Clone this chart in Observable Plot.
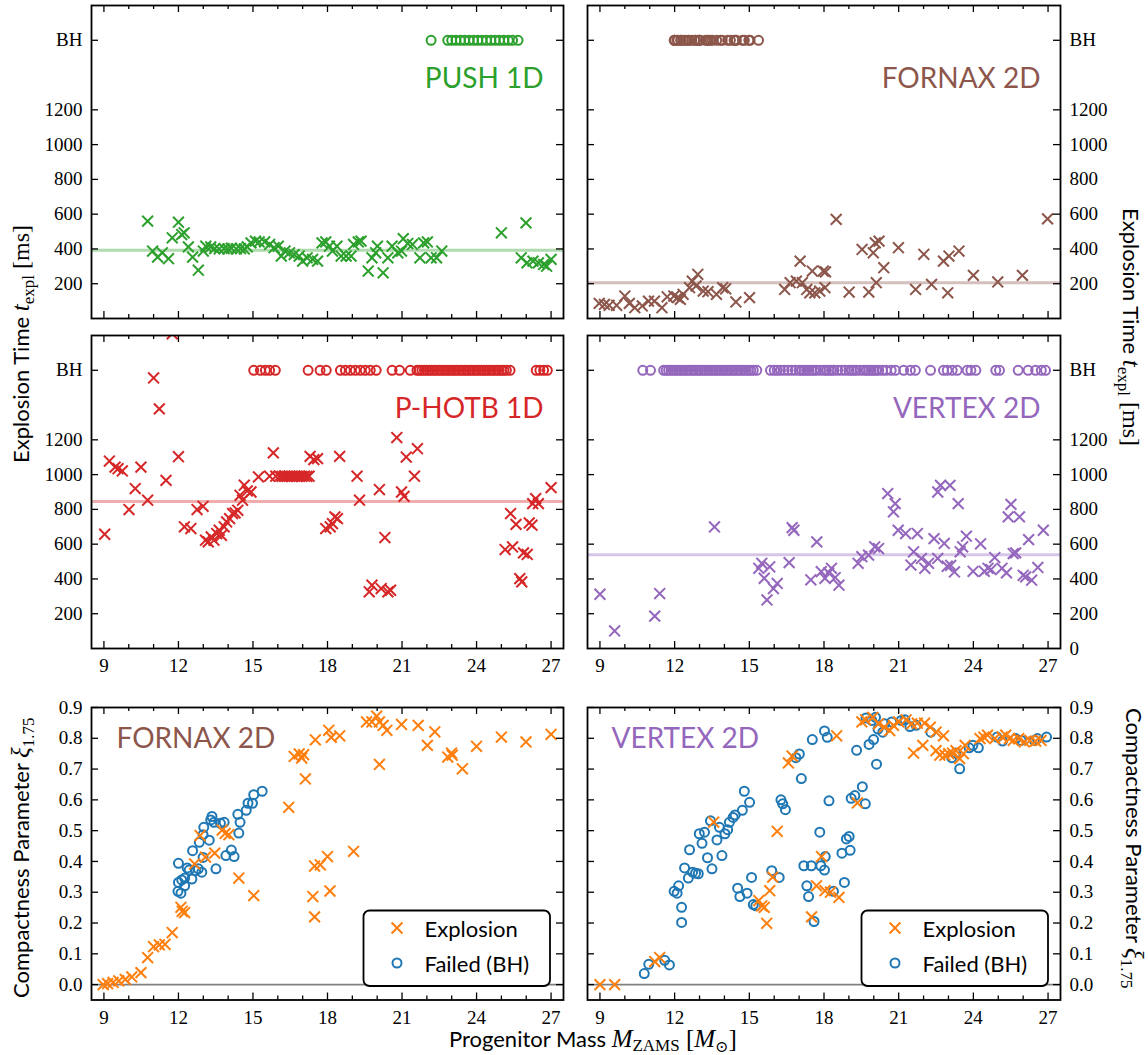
<!DOCTYPE html>
<html><head><meta charset="utf-8">
<script src="https://cdn.jsdelivr.net/npm/d3@7"></script>
<script src="https://cdn.jsdelivr.net/npm/@observablehq/plot@0.6"></script>
<style>
body{margin:0;background:#fff}
#fig{position:relative;width:1148px;height:1055px;overflow:hidden;background:#fff}
#fig > svg{position:absolute}
</style></head><body><div id="fig"></div><script>
// ---------------- DATA ----------------
const X_MAJOR = [9, 12, 15, 18, 21, 24, 27];
const X_MINOR = [10, 11, 13, 14, 16, 17, 19, 20, 22, 23, 25, 26];
const T_TICKS = [200, 400, 600, 800, 1000, 1200, 1600];
const BH_Y = 1600;
const XI_TICKS = [0, 0.1, 0.2, 0.3, 0.4, 0.5, 0.6, 0.7, 0.8, 0.9];

const pushMean = 393, fornaxMean = 206, photbMean = 845, vertexMean = 539;

const pushExpl = [[10.76,560],[10.96,388],[11.16,353],[11.35,378],[11.6,344],[11.75,464],[12.0,554],[12.13,483],[12.23,493],[12.4,412],[12.57,353],[12.8,278],[13.0,388],[13.1,416],[13.3,412],[13.46,402],[13.64,400],[13.84,402],[13.99,400],[14.13,404],[14.33,400],[14.5,402],[14.65,400],[14.77,412],[14.92,435],[15.1,445],[15.25,440],[15.47,440],[15.67,426],[15.85,407],[16.02,416],[16.14,359],[16.29,388],[16.47,378],[16.66,368],[16.86,359],[17.0,330],[17.18,349],[17.4,340],[17.6,330],[17.78,435],[17.93,440],[18.08,416],[18.2,388],[18.38,416],[18.55,359],[18.75,359],[18.95,359],[19.05,426],[19.24,440],[19.35,445],[19.64,273],[19.79,349],[19.94,378],[20.01,416],[20.24,263],[20.43,349],[20.6,416],[20.83,378],[20.98,388],[21.05,459],[21.23,431],[21.42,426],[21.72,349],[21.87,435],[22.02,440],[22.17,349],[22.39,349],[22.6,388],[25.0,493],[25.8,349],[25.99,550],[26.03,320],[26.27,330],[26.49,320],[26.7,311],[26.82,301],[27.0,340]];
const pushBH = [22.17,22.84,23.0,23.17,23.35,23.52,23.7,23.88,24.05,24.22,24.4,24.58,24.75,24.92,25.1,25.28,25.45,25.67];

const fornaxExpl = [[8.97,87],[9.18,81],[9.37,76],[9.67,76],[10.0,129],[10.18,87],[10.4,62],[10.7,72],[10.95,100],[11.19,100],[11.49,62],[11.7,125],[11.97,129],[12.12,120],[12.23,110],[12.34,139],[12.6,177],[12.71,215],[12.86,187],[12.93,254],[13.15,158],[13.34,154],[13.68,139],[13.93,177],[14.05,171],[14.46,95],[15.01,120],[16.42,167],[16.64,206],[16.89,215],[17.04,330],[17.13,206],[17.31,167],[17.43,148],[17.53,273],[17.63,148],[17.83,158],[17.97,273],[18.06,268],[18.04,177],[18.49,570],[19.01,152],[19.53,397],[19.8,152],[19.98,378],[20.06,435],[20.1,206],[20.21,445],[20.4,292],[20.99,407],[21.68,167],[22.01,369],[22.32,196],[22.8,330],[22.97,148],[23.02,359],[23.42,388],[24.0,248],[24.98,210],[25.97,248],[26.98,573]];

const photbExpl = [[9.03,657],[9.22,1078],[9.45,1043],[9.57,1034],[9.74,1021],[10.01,799],[10.26,920],[10.49,1043],[10.76,853],[11.0,1556],[11.23,1378],[11.5,967],[11.75,1810],[12.0,1103],[12.24,700],[12.5,690],[12.75,799],[12.99,818],[13.09,623],[13.2,613],[13.32,642],[13.43,623],[13.54,661],[13.64,680],[13.73,651],[13.84,700],[13.94,728],[14.06,747],[14.18,776],[14.28,780],[14.39,795],[14.48,881],[14.58,853],[14.65,939],[14.77,906],[14.92,900],[15.22,987],[15.67,991],[15.82,1125],[15.92,991],[16.07,991],[16.17,990],[16.27,991],[16.37,990],[16.47,991],[16.57,990],[16.67,991],[16.77,990],[16.87,991],[16.97,990],[17.07,991],[17.17,990],[17.26,991],[17.3,1105],[17.45,1086],[17.6,1092],[17.93,690],[18.11,700],[18.2,718],[18.3,757],[18.4,747],[18.49,1105],[19.19,991],[19.29,853],[19.68,326],[19.79,364],[20.09,914],[20.16,345],[20.31,638],[20.43,326],[20.54,335],[20.79,1213],[20.98,900],[21.08,875],[21.17,1101],[21.5,991],[21.62,1149],[25.15,569],[25.37,776],[25.45,584],[25.59,714],[25.74,402],[25.82,383],[25.89,550],[26.04,541],[26.12,722],[26.23,709],[26.26,833],[26.38,862],[26.49,833],[27.0,925]];
const photbBH = [15.03,15.3,15.5,15.67,15.9,17.22,17.7,17.95,18.52,18.72,18.92,19.12,19.32,19.52,19.72,19.96,20.6,20.9,21.33,21.6,21.7,21.8,21.9,22.0,22.1,22.2,22.3,22.4,22.5,22.6,22.7,22.8,22.9,23.0,23.1,23.2,23.3,23.4,23.5,23.6,23.7,23.8,23.9,24.0,24.1,24.2,24.3,24.4,24.5,24.6,24.7,24.8,24.9,25.0,25.1,25.2,25.35,26.4,26.55,26.7,26.85];

const vertexExpl = [[9.0,312],[9.59,101],[11.2,186],[11.4,316],[13.6,699],[15.38,461],[15.5,490],[15.6,404],[15.71,279],[15.82,470],[15.97,345],[16.12,374],[16.6,494],[16.72,695],[16.79,680],[17.47,395],[17.71,613],[17.89,442],[18.04,404],[18.19,435],[18.3,461],[18.45,408],[18.6,364],[19.37,490],[19.52,528],[19.79,537],[20.04,585],[20.19,575],[20.56,891],[20.79,786],[20.86,833],[20.98,680],[21.28,661],[21.49,480],[21.6,556],[21.75,661],[21.91,518],[22.05,461],[22.2,490],[22.42,632],[22.57,518],[22.57,900],[22.68,938],[22.83,604],[22.95,473],[23.09,478],[23.06,938],[23.24,440],[23.39,833],[23.47,556],[23.57,585],[23.72,646],[23.99,444],[24.29,602],[24.44,444],[24.59,461],[24.71,454],[24.86,523],[25.15,461],[25.33,435],[25.4,757],[25.51,829],[25.6,546],[25.7,550],[25.85,757],[26.0,421],[26.1,412],[26.22,626],[26.34,393],[26.59,466],[26.81,680]];
const vertexBH = [10.72,11.03,11.56,11.66,11.76,11.86,11.96,12.06,12.16,12.26,12.36,12.46,12.56,12.66,12.76,12.86,12.96,13.06,13.16,13.26,13.36,13.46,13.56,13.66,13.76,13.86,13.96,14.06,14.16,14.26,14.36,14.46,14.56,14.66,14.76,14.86,14.96,15.06,15.16,15.3,15.85,16.0,16.12,16.25,16.4,16.55,16.7,16.85,17.0,17.1,17.2,17.3,17.4,17.5,17.6,17.7,17.85,18.0,18.1,18.2,18.3,18.4,18.55,18.7,18.85,19.0,19.1,19.2,19.3,19.45,19.6,19.7,19.8,19.9,20.0,20.1,20.2,20.35,20.5,20.7,20.87,21.2,21.47,21.67,22.28,22.8,22.95,23.15,23.35,23.75,23.9,24.1,24.9,25.05,25.8,26.2,26.5,26.73,26.9];

// compactness panels
const fornaxXiExpl = [[8.97,0.0],[9.15,0.003],[9.37,0.007],[9.6,0.012],[9.86,0.017],[10.12,0.025],[10.49,0.039],[10.76,0.088],[11.0,0.123],[11.23,0.129],[11.46,0.131],[11.75,0.169],[12.1,0.251],[12.15,0.238],[12.25,0.234],[12.65,0.392],[12.87,0.484],[13.09,0.414],[13.46,0.427],[13.76,0.502],[13.88,0.491],[14.03,0.487],[14.43,0.346],[15.03,0.289],[16.44,0.576],[16.66,0.741],[16.86,0.749],[16.96,0.736],[17.04,0.747],[17.11,0.668],[17.41,0.286],[17.48,0.22],[17.48,0.385],[17.51,0.795],[17.71,0.389],[18.0,0.416],[18.05,0.826],[18.1,0.304],[18.15,0.803],[18.49,0.808],[19.05,0.433],[19.57,0.853],[19.79,0.853],[19.98,0.872],[20.09,0.853],[20.09,0.715],[20.24,0.842],[20.39,0.826],[20.98,0.845],[21.65,0.842],[22.02,0.777],[22.32,0.821],[22.84,0.739],[22.99,0.752],[23.02,0.745],[23.43,0.701],[24.0,0.774],[25.0,0.804],[25.99,0.788],[27.0,0.813]];
const fornaxXiBH = [[12.0,0.394],[11.98,0.303],[12.1,0.297],[12.0,0.332],[12.13,0.34],[12.25,0.346],[12.25,0.321],[12.35,0.379],[12.43,0.372],[12.57,0.435],[12.54,0.343],[12.69,0.37],[12.8,0.376],[12.84,0.462],[12.94,0.365],[12.99,0.487],[13.02,0.511],[12.99,0.413],[13.24,0.469],[13.35,0.546],[13.3,0.535],[13.43,0.527],[13.51,0.376],[13.69,0.524],[13.84,0.527],[13.91,0.419],[14.13,0.437],[14.24,0.416],[14.39,0.553],[14.43,0.492],[14.48,0.527],[14.73,0.566],[14.8,0.589],[14.98,0.589],[15.03,0.617],[15.37,0.628]];
const fornaxBH = fornaxXiBH.map(d => d[0]);

const vertexXiExpl = [[9.0,0.0],[9.59,0.0],[11.2,0.075],[11.4,0.088],[13.57,0.528],[15.38,0.273],[15.5,0.256],[15.6,0.251],[15.7,0.199],[15.82,0.305],[15.94,0.349],[16.12,0.498],[16.57,0.72],[16.72,0.742],[17.5,0.22],[17.7,0.321],[17.9,0.416],[18.04,0.305],[18.26,0.3],[18.6,0.283],[18.51,0.808],[19.34,0.59],[19.52,0.853],[19.67,0.86],[19.96,0.868],[20.19,0.847],[20.42,0.836],[20.64,0.825],[20.79,0.842],[21.0,0.853],[21.3,0.86],[21.52,0.847],[21.6,0.752],[21.75,0.849],[21.97,0.777],[22.04,0.849],[22.27,0.836],[22.5,0.82],[22.5,0.76],[22.65,0.745],[22.8,0.808],[22.86,0.745],[23.01,0.75],[23.16,0.752],[23.3,0.76],[23.45,0.734],[23.6,0.75],[23.67,0.777],[24.27,0.799],[24.42,0.804],[24.57,0.81],[24.86,0.799],[25.16,0.804],[25.3,0.81],[25.45,0.799],[25.6,0.793],[25.82,0.799],[26.05,0.788],[26.27,0.793],[26.5,0.791],[26.72,0.793]];
const vertexXiBH = [[10.78,0.036],[10.96,0.066],[11.6,0.079],[11.79,0.064],[11.98,0.303],[12.1,0.297],[12.16,0.321],[12.28,0.251],[12.28,0.202],[12.4,0.379],[12.55,0.346],[12.6,0.438],[12.72,0.365],[12.84,0.362],[12.95,0.36],[12.99,0.49],[13.1,0.459],[13.2,0.495],[13.32,0.412],[13.44,0.532],[13.5,0.376],[13.7,0.47],[13.8,0.511],[13.9,0.419],[14.02,0.49],[14.13,0.503],[14.2,0.527],[14.35,0.543],[14.43,0.551],[14.53,0.313],[14.62,0.286],[14.72,0.566],[14.8,0.628],[14.91,0.297],[15.01,0.592],[15.09,0.348],[15.16,0.26],[15.26,0.256],[15.9,0.37],[16.2,0.348],[16.27,0.6],[16.34,0.587],[16.45,0.568],[16.87,0.737],[17.01,0.749],[17.09,0.669],[17.19,0.386],[17.31,0.321],[17.38,0.286],[17.49,0.386],[17.53,0.796],[17.6,0.205],[17.83,0.495],[17.87,0.386],[18.02,0.372],[18.05,0.416],[18.02,0.824],[18.13,0.803],[18.2,0.597],[18.38,0.303],[18.72,0.427],[18.82,0.332],[18.9,0.473],[19.01,0.481],[19.05,0.436],[19.09,0.605],[19.24,0.614],[19.31,0.761],[19.54,0.643],[19.66,0.587],[19.69,0.866],[19.81,0.78],[19.92,0.858],[19.99,0.796],[20.07,0.868],[20.11,0.716],[20.17,0.83],[20.36,0.82],[20.43,0.847],[20.72,0.853],[21.1,0.858],[21.25,0.86],[21.45,0.838],[21.7,0.842],[22.29,0.82],[23.13,0.737],[23.29,0.752],[23.45,0.701],[23.83,0.769],[23.98,0.777],[24.2,0.769],[24.95,0.804],[25.17,0.791],[25.7,0.799],[25.92,0.793],[26.45,0.793],[26.57,0.799],[26.94,0.804]];

// ---------------- STYLE / LAYOUT ----------------
const C = {push: "#2ca02c", fornax: "#8c564b", photb: "#d62728", vertex: "#9467bd", expl: "#ff7f0e", fail: "#1f77b4"};
const SERIF = "'Liberation Serif', 'DejaVu Serif', serif";
const SANS = "Lato, 'Open Sans', sans-serif";
const X_DOMAIN = [8.5, 27.5];
const COL = [{x0: 91, x1: 563}, {x0: 587, x1: 1060}];
const ROW = [{y0: 5, y1: 318}, {y0: 335, y1: 648}, {y0: 706.5, y1: 999}];
const MG = {t: 6, r: 64, b: 40, l: 64};
const fig = document.getElementById("fig");

function panel(ci, ri, cfg) {
  const c = COL[ci], r = ROW[ri];
  const fw = c.x1 - c.x0, fh = r.y1 - r.y0;
  const tk = {stroke: "black", strokeWidth: 1.3};
  const marks = [
    ...cfg.marks,
    Plot.tickX(X_MAJOR, {x: d => d, insetTop: fh - 7, ...tk}),
    Plot.tickX(X_MAJOR, {x: d => d, insetBottom: fh - 7, ...tk}),
    Plot.tickX(X_MINOR, {x: d => d, insetTop: fh - 4, ...tk}),
    Plot.tickX(X_MINOR, {x: d => d, insetBottom: fh - 4, ...tk}),
    Plot.tickY(cfg.yTicks, {y: d => d, insetRight: fw - 7, ...tk}),
    Plot.tickY(cfg.yTicks, {y: d => d, insetLeft: fw - 7, ...tk}),
    Plot.frame({stroke: "black", strokeWidth: 1.8}),
    Plot.axisY({anchor: cfg.ySide, ticks: cfg.yLabelTicks, tickSize: 0, tickPadding: 9, tickFormat: cfg.yFormat, label: null, fontSize: 19, fontFamily: SERIF})
  ];
  if (cfg.xLabels) marks.push(Plot.axisX({ticks: X_MAJOR, tickSize: 0, tickPadding: 10, tickFormat: d => String(d), label: null, fontSize: 19, fontFamily: SERIF}));
  if (cfg.title) marks.push(Plot.text([cfg.title], {text: d => d, frameAnchor: cfg.titleAnchor, dx: cfg.tdx, dy: cfg.tdy, lineAnchor: "bottom", textAnchor: cfg.titleAnchor.endsWith("right") ? "end" : "start", fill: cfg.titleColor, fontFamily: SANS, fontSize: 28}));
  const svg = Plot.plot({
    width: fw + MG.l + MG.r, height: fh + MG.t + MG.b,
    marginLeft: MG.l, marginRight: MG.r, marginTop: MG.t, marginBottom: MG.b,
    x: {domain: X_DOMAIN, axis: cfg.xLabels ? undefined : null},
    y: {domain: cfg.yDomain},
    style: {fontFamily: SERIF, fontSize: "19px", color: "black", background: "transparent", overflow: "visible", maxWidth: "none"},
    marks
  });
  svg.style.left = (c.x0 - MG.l) + "px";
  svg.style.top = (r.y0 - MG.t) + "px";
  fig.append(svg);
}

const fmtT = d => d === BH_Y ? "BH" : String(d);
const crosses = (data, color) => Plot.dot(data, {x: d => d[0], y: d => d[1], symbol: "times", r: 5, stroke: color, strokeWidth: 2, fill: "none", clip: true});
const bhRow = (data, color) => Plot.dot(data, {x: d => d, y: () => BH_Y, symbol: "circle", r: 4.5, stroke: color, strokeWidth: 2, fill: "none", clip: true});
const rings = (data, color) => Plot.dot(data, {x: d => d[0], y: d => d[1], symbol: "circle", r: 4.5, stroke: color, strokeWidth: 2, fill: "none", clip: true});
const meanLine = (v, color) => Plot.ruleY([v], {stroke: color, strokeOpacity: 0.38, strokeWidth: 3});

const timeCfg = (expl, bh, mean, color, title, side, xLabels, labelTicks) => ({
  yDomain: [0, 1800], yTicks: T_TICKS, yLabelTicks: labelTicks, yFormat: fmtT, ySide: side, xLabels,
  title, titleColor: color, titleAnchor: "top-right", tdx: -20, tdy: 82.5,
  marks: [meanLine(mean, color), crosses(expl, color), bhRow(bh, color)]
});

panel(0, 0, timeCfg(pushExpl, pushBH, pushMean, C.push, "PUSH 1D", "left", false, T_TICKS));
panel(1, 0, timeCfg(fornaxExpl, fornaxBH, fornaxMean, C.fornax, "FORNAX 2D", "right", false, T_TICKS));
panel(0, 1, timeCfg(photbExpl, photbBH, photbMean, C.photb, "P-HOTB 1D", "left", true, T_TICKS));
panel(1, 1, timeCfg(vertexExpl, vertexBH, vertexMean, C.vertex, "VERTEX 2D", "right", true, [0, ...T_TICKS]));

const xiCfg = (expl, bh, title, color, side, tdx) => ({
  yDomain: [-0.05, 0.9], yTicks: XI_TICKS, yLabelTicks: XI_TICKS, yFormat: d3.format(".1f"), ySide: side, xLabels: true,
  title, titleColor: color, titleAnchor: "top-left", tdx, tdy: 40.5,
  marks: [Plot.ruleY([0], {stroke: "#808080", strokeWidth: 1.6}), rings(bh, C.fail), crosses(expl, C.expl)]
});
panel(0, 2, xiCfg(fornaxXiExpl, fornaxXiBH, "FORNAX 2D", C.fornax, "left", 25));
panel(1, 2, xiCfg(vertexXiExpl, vertexXiBH, "VERTEX 2D", C.vertex, "right", 24));

// ---------------- OVERLAY: axis titles & legends ----------------
const ov = d3.create("svg").attr("width", 1148).attr("height", 1055).style("left", "0px").style("top", "0px");
function label(x, y, rot, parts, anchor = "start") {
  const t = ov.append("text").attr("transform", `translate(${x},${y}) rotate(${rot})`).attr("text-anchor", anchor).attr("fill", "black");
  for (const p of parts) {
    const s = t.append("tspan").text(p.t).attr("font-family", p.f === "sans" ? SANS : SERIF).attr("font-size", p.s || 24);
    if (p.i) s.attr("font-style", "italic");
    if (p.dy) s.attr("dy", p.dy);
  }
}
const tParts = [{t: "Explosion Time ", f: "sans", s: 22}, {t: "t", i: 1, s: 25}, {t: "expl", s: 17, dy: 5}, {t: " [ms]", s: 24, dy: -5}];
label(29, 463, -90, tParts);
label(1123, 208, 90, tParts);
const xiParts = [{t: "Compactness Parameter ", f: "sans", s: 22}, {t: "ξ", i: 1, s: 25}, {t: "1.75", s: 17, dy: 5}, {t: "", dy: -5}];
label(29, 998, -90, xiParts);
label(1126, 708, 90, xiParts);
label(449, 1047, 0, [{t: "Progenitor Mass ", f: "sans", s: 22}, {t: "M", i: 1, s: 25}, {t: "ZAMS", s: 17, dy: 4}, {t: " [", s: 25, dy: -4}, {t: "M", i: 1, s: 25}, {t: "⊙", s: 16, dy: 5}, {t: "]", s: 25, dy: -5}]);

function legend(x, y) {
  const g = ov.append("g").attr("transform", `translate(${x},${y})`);
  g.append("rect").attr("x", 0).attr("y", 0).attr("width", 186.5).attr("height", 75.5).attr("rx", 6).attr("fill", "white").attr("stroke", "black").attr("stroke-width", 1.8);
  g.append("path").attr("d", d3.symbol(d3.symbolTimes, 25 * Math.PI)()).attr("transform", "translate(33.5,17.5)").attr("fill", "none").attr("stroke", C.expl).attr("stroke-width", 2);
  g.append("circle").attr("cx", 33.5).attr("cy", 52.5).attr("r", 4.5).attr("fill", "none").attr("stroke", C.fail).attr("stroke-width", 2);
  g.append("text").attr("x", 61).attr("y", 26.5).attr("font-family", SANS).attr("font-size", 22).text("Explosion");
  g.append("text").attr("x", 61).attr("y", 61.5).attr("font-family", SANS).attr("font-size", 22).text("Failed (BH)");
}
legend(363.5, 910.5);
legend(861.5, 910.5);
fig.append(ov.node());
</script></body></html>
